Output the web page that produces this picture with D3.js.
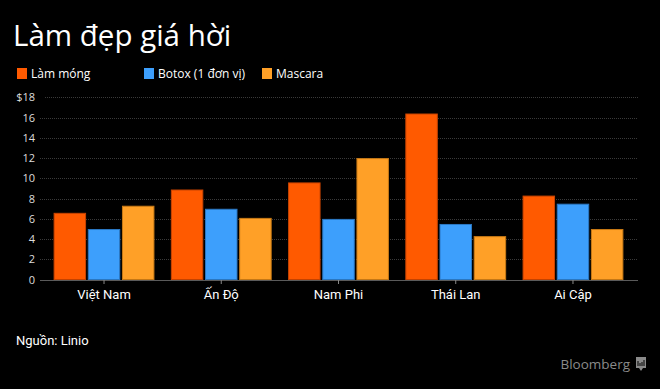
<!DOCTYPE html>
<html><head><meta charset="utf-8">
<script src="https://cdn.jsdelivr.net/npm/d3@7"></script>
<style>
html,body{margin:0;padding:0;background:#000;}
svg{display:block;}
</style></head>
<body>
<script>
const categories = ["Việt Nam", "Ấn Độ", "Nam Phi", "Thái Lan", "Ai Cập"];
const seriesNames = ["Làm móng", "Botox (1 đơn vị)", "Mascara"];
const lamMong = [6.6, 8.9, 9.6, 16.4, 8.3];
const botox = [5.0, 7.0, 6.0, 5.5, 7.5];
const mascara = [7.3, 6.1, 12.0, 4.3, 5.0];
const yTicks = [0, 2, 4, 6, 8, 10, 12, 14, 16, 18];
const colors = ["#ff5a00", "#3d9ffc", "#ffa027"];
const strokes = ["#c94400", "#2b78c4", "#c97a15"];

const W = 660, H = 389;
const svg = d3.select("body").append("svg").attr("width", W).attr("height", H)
  .style("background", "#000");
const font = "'Open Sans', 'Noto Sans', sans-serif";
const narrow = "Roboto, 'Open Sans', sans-serif";

svg.append("text").attr("x", 13).attr("y", 46).text("Làm đẹp giá hời")
  .attr("fill", "#fff").attr("font-family", font).attr("font-size", 29.5);

const legendX = [17, 144, 262];
seriesNames.forEach((n, i) => {
  svg.append("rect").attr("x", legendX[i]).attr("y", 68).attr("width", 10).attr("height", 11)
    .attr("fill", colors[i]);
  svg.append("text").attr("x", legendX[i] + 14).attr("y", 78).text(n)
    .attr("fill", "#fff").attr("font-family", font).attr("font-size", 12);
});

const y = d3.scaleLinear().domain([0, 18]).range([279.7, 97.3]);
const x0 = d3.scaleBand().domain(categories).range([45.4, 631.6]).paddingInner(0.14).paddingOuter(0.07);
const x1 = d3.scaleBand().domain([0, 1, 2]).range([0, x0.bandwidth()]).paddingInner(0.05);

// grid
const grid = svg.append("g");
yTicks.filter(t => t > 0).forEach(t => {
  grid.append("line").attr("x1", t === 18 ? 45 : 40).attr("x2", 638)
    .attr("y1", Math.round(y(t)) + 0.5).attr("y2", Math.round(y(t)) + 0.5)
    .attr("stroke", "#3a3a3a").attr("stroke-width", 1).attr("stroke-dasharray", "1,1");
});
// y labels
const yAxis = d3.axisLeft(y).tickValues(yTicks).tickSize(0).tickPadding(0)
  .tickFormat(d => d === 18 ? "$18" : d);
const ya = svg.append("g").attr("transform", "translate(35,0)").call(yAxis);
ya.select(".domain").remove();
ya.selectAll("text").attr("fill", "#ddd").attr("font-family", font).attr("font-size", 11);

// bars
const series = [lamMong, botox, mascara];
categories.forEach((c, ci) => {
  series.forEach((s, si) => {
    svg.append("rect")
      .attr("x", x0(c) + x1(si) + 0.5)
      .attr("y", y(s[ci]) + 0.5)
      .attr("width", x1.bandwidth() - 1)
      .attr("height", y(0) - y(s[ci]) - 0.5)
      .attr("fill", colors[si]).attr("stroke", strokes[si]).attr("stroke-width", 1);
  });
});

// x axis
const xa = svg.append("g").attr("transform", "translate(0,280)")
  .call(d3.axisBottom(x0).tickSize(4).tickSizeOuter(0).tickPadding(6));
xa.select(".domain").attr("d", "M40,0.5H638").attr("stroke", "#5a5a5a");
xa.selectAll(".tick line").attr("stroke", "#888");
xa.selectAll("text").attr("fill", "#fff").attr("font-family", narrow).attr("font-size", 13);

svg.append("text").attr("x", 16).attr("y", 345).text("Nguồn: Linio")
  .attr("fill", "#fff").attr("font-family", narrow).attr("font-size", 13);

svg.append("text").attr("x", 630).attr("y", 369).attr("text-anchor", "end").text("Bloomberg")
  .attr("fill", "#8a8a8a").attr("font-family", font).attr("font-size", 13.5);
const logo = svg.append("g").attr("transform", "translate(636,357)");
logo.append("path").attr("d", "M0,0H10V11H7L5,14L3,11H0Z").attr("fill", "#8a8a8a");
[[2, 5], [4, 3], [6, 4], [8, 6]].forEach(([px, h]) => {
  logo.append("rect").attr("x", px - 0.5).attr("y", 9 - h).attr("width", 1).attr("height", h).attr("fill", "#000");
});
</script>
</body></html>
